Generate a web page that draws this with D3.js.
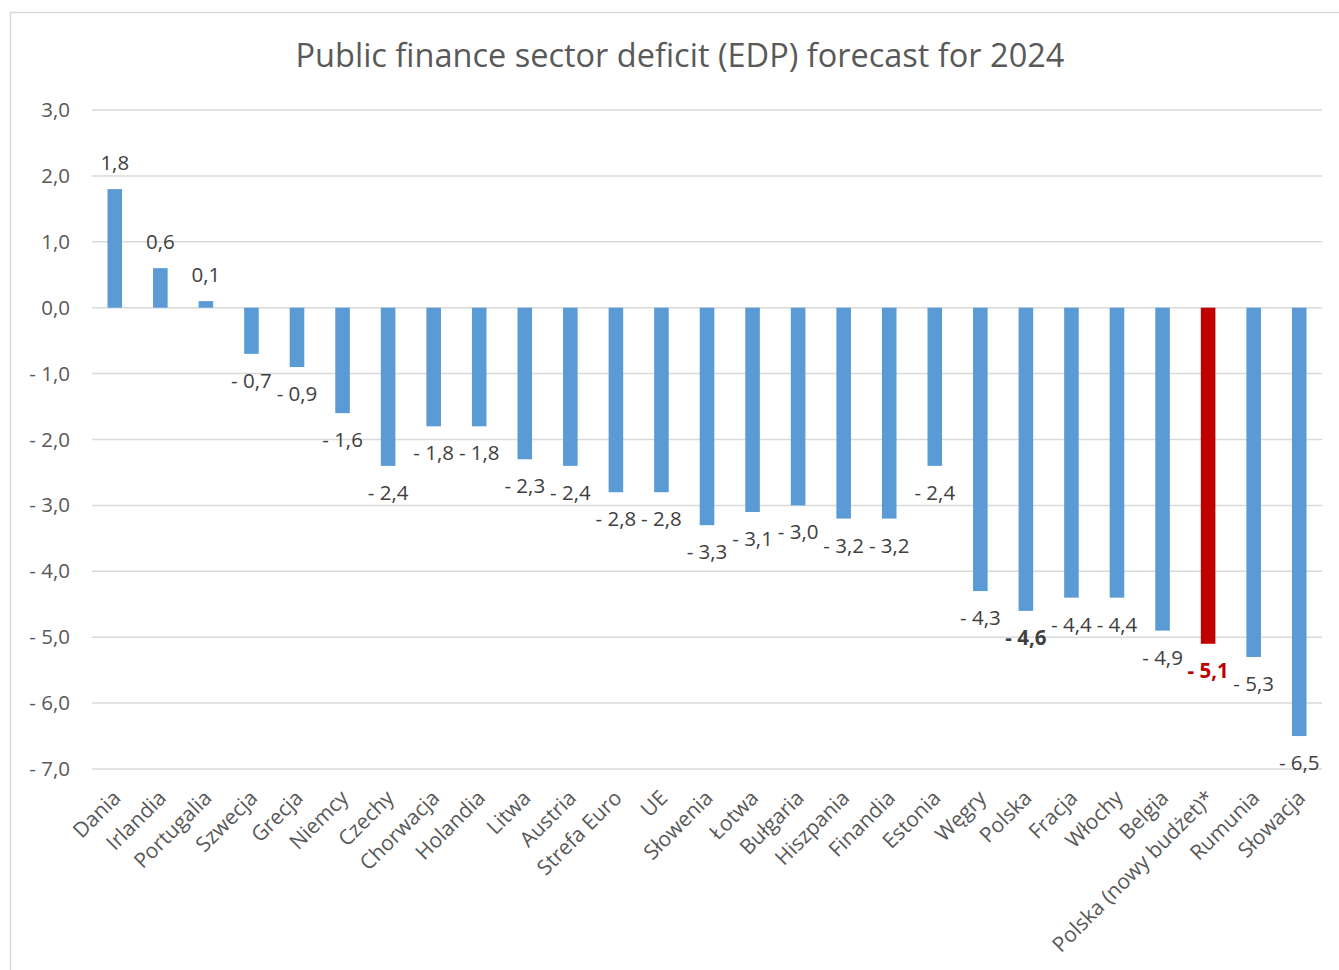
<!DOCTYPE html>
<html>
<head>
<meta charset="utf-8">
<script src="https://cdn.jsdelivr.net/npm/d3@7"></script>
<style>
  body { margin: 0; background: #fff; }
  svg text { font-family: "Open Sans", Lato, sans-serif; }
</style>
</head>
<body>
<div id="chart"></div>
<script>
// data
var countries = ["Dania", "Irlandia", "Portugalia", "Szwecja", "Grecja", "Niemcy", "Czechy",
    "Chorwacja", "Holandia", "Litwa", "Austria", "Strefa Euro", "UE", "Słowenia", "Łotwa",
    "Bułgaria", "Hiszpania", "Finandia", "Estonia", "Węgry", "Polska", "Fracja", "Włochy",
    "Belgia", "Polska (nowy budżet)*", "Rumunia", "Słowacja"];
var deficit = [1.8, 0.6, 0.1, -0.7, -0.9, -1.6, -2.4, -1.8, -1.8, -2.3, -2.4, -2.8, -2.8, -3.3,
    -3.1, -3.0, -3.2, -3.2, -2.4, -4.3, -4.6, -4.4, -4.4, -4.9, -5.1, -5.3, -6.5];
var yTicks = [3, 2, 1, 0, -1, -2, -3, -4, -5, -6, -7];
var highlighted = "Polska (nowy budżet)*";
var boldLabel = "Polska";

var width = 1339, height = 970;

var svg = d3.select("#chart").append("svg")
    .attr("width", width)
    .attr("height", height);

// chart frame
svg.append("rect")
    .attr("x", 10.5)
    .attr("y", 12.5)
    .attr("width", 1400)
    .attr("height", 1000)
    .style("fill", "none")
    .style("stroke", "#d9d9d9")
    .style("stroke-width", "1.5px");

// title
svg.append("text")
    .attr("x", 680)
    .attr("y", 67)
    .attr("text-anchor", "middle")
    .text("Public finance sector deficit (EDP) forecast for 2024")
    .style("font-size", "32.5px")
    .style("fill", "#595959");

var x = d3.scaleBand()
    .domain(countries)
    .range([92, 1322])
    .paddingInner(0.68)
    .paddingOuter(0.34);

var y = d3.scaleLinear()
    .domain([-7, 3])
    .range([769, 110]);

function fmt(v) {
    var s = d3.format(".1f")(Math.abs(v)).replace(".", ",");
    return v < 0 ? "- " + s : s;
}

// gridlines
svg.append("g")
    .selectAll("line")
    .data(yTicks)
    .join("line")
    .attr("x1", 92)
    .attr("x2", 1322)
    .attr("y1", function(d) { return y(d); })
    .attr("y2", function(d) { return y(d); })
    .style("stroke", "#d9d9d9")
    .style("stroke-width", "1.5px");

// y axis labels
var yAxis = d3.axisLeft(y)
    .tickValues(yTicks)
    .tickSize(0)
    .tickPadding(0)
    .tickFormat(fmt);

var gy = svg.append("g")
    .attr("transform", "translate(70,0)")
    .call(yAxis);
gy.select(".domain").remove();
gy.selectAll("text")
    .style("font-family", "'Open Sans', Lato, sans-serif")
    .style("font-size", "20.5px")
    .style("fill", "#595959");

// bars
svg.append("g")
    .selectAll("rect")
    .data(countries)
    .join("rect")
    .attr("x", function(d) { return x(d); })
    .attr("width", x.bandwidth())
    .attr("y", function(d, i) { return y(Math.max(0, deficit[i])); })
    .attr("height", function(d, i) { return Math.abs(y(deficit[i]) - y(0)); })
    .style("fill", function(d) { return d === highlighted ? "#c00000" : "#5b9bd5"; });

// value labels
svg.append("g")
    .selectAll("text")
    .data(countries)
    .join("text")
    .attr("x", function(d) { return x(d) + x.bandwidth() / 2; })
    .attr("y", function(d, i) {
        var v = deficit[i];
        return v >= 0 ? y(v) - 19 : y(v) + 34;
    })
    .attr("text-anchor", "middle")
    .text(function(d, i) { return fmt(deficit[i]); })
    .style("font-size", "20.5px")
    .style("font-weight", function(d) { return (d === highlighted || d === boldLabel) ? "bold" : "normal"; })
    .style("fill", function(d) { return d === highlighted ? "#c00000" : "#404040"; });

// category labels
svg.append("g")
    .selectAll("text")
    .data(countries)
    .join("text")
    .attr("transform", function(d) {
        return "translate(" + (x(d) + x.bandwidth() / 2 + 2) + ",794) rotate(-45)";
    })
    .attr("text-anchor", "end")
    .attr("dy", "0.35em")
    .text(function(d) { return d; })
    .style("font-size", "21px")
    .style("fill", "#595959");
</script>
</body>
</html>
